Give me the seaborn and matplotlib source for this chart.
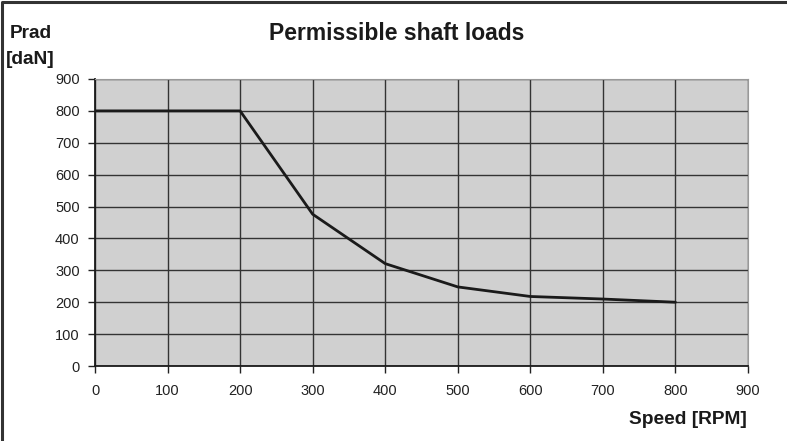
import seaborn as sns
import pandas as pd
import matplotlib
matplotlib.use("Agg")
import matplotlib.pyplot as plt
from matplotlib.lines import Line2D

speed = [0, 200, 300, 400, 500, 600, 700, 800]
prad = [800, 800, 476, 321, 248, 218, 210, 200]

df = pd.DataFrame({"speed": speed, "prad": prad})

sns.set_style("white")
plt.rcParams["font.family"] = ["Liberation Sans", "DejaVu Sans"]

fig = plt.figure(figsize=(7.87, 4.41), dpi=100)
ax = fig.add_axes([95 / 787, 1 - 366 / 441, (748 - 95) / 787, (366 - 79) / 441])
ax.set_facecolor("#d0d0d0")

sns.lineplot(data=df, x="speed", y="prad", ax=ax, color="#1a1a1a", linewidth=2)

ax.set_xlim(0, 900)
ax.set_ylim(0, 900)
ax.set_xticks(range(0, 901, 100))
ax.set_yticks(range(0, 901, 100))
ax.grid(True, color="#333333", linewidth=1)
ax.set_axisbelow(True)
ax.tick_params(axis="both", which="both", direction="out", length=5, width=1,
               colors="#222222", labelsize=10.5, left=True, bottom=True)
ax.tick_params(axis="x", pad=8)
ax.tick_params(axis="y", pad=6)
for side in ["left", "bottom"]:
    ax.spines[side].set_color("#1a1a1a")
    ax.spines[side].set_linewidth(1.3)
for side in ["top", "right"]:
    ax.spines[side].set_visible(True)
    ax.spines[side].set_color("#999999")
ax.set_xlabel("")
ax.set_ylabel("")

fig.text(397 / 787, 1 - 33 / 441, "Permissible shaft loads", ha="center", va="center",
         fontsize=16.5, fontweight="bold", color="#1a1a1a")
fig.text(10 / 787, 1 - 33 / 441, "Prad", ha="left", va="center",
         fontsize=13.8, fontweight="bold", color="#1a1a1a")
fig.text(6 / 787, 1 - 59 / 441, "[daN]", ha="left", va="center",
         fontsize=13.8, fontweight="bold", color="#1a1a1a")
fig.text(747 / 787, 1 - 419 / 441, "Speed [RPM]", ha="right", va="center",
         fontsize=13.8, fontweight="bold", color="#1a1a1a")

# frame on top and left edges only
fig.lines.append(Line2D([0.003, 0.003, 1.0], [0.0, 0.995, 0.995], transform=fig.transFigure,
                        color="#333333", linewidth=2.2))

fig.savefig("out.png", dpi=100)
